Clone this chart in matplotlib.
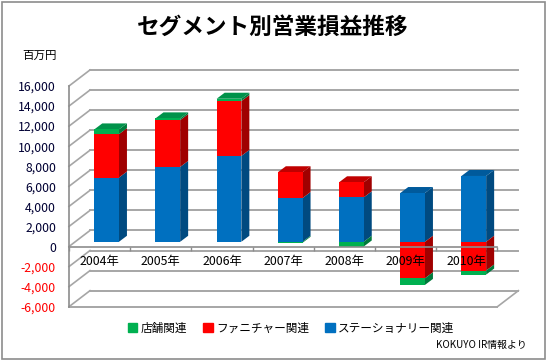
import matplotlib
matplotlib.use("Agg")
import matplotlib.pyplot as plt
from matplotlib.patches import Patch, Polygon, Rectangle

plt.rcParams['font.family'] = ['Noto Sans CJK JP', 'DejaVu Sans']

years = ["2004年", "2005年", "2006年", "2007年", "2008年", "2009年", "2010年"]
stationery = [6400, 7460, 8560, 4360, 4430, 4860, 6560]
furniture = [4330, 4670, 5470, 2570, 1500, -3640, -2870]
stores = [470, 170, 230, -100, -470, -660, -400]
y_ticks = [-6000, -4000, -2000, 0, 2000, 4000, 6000, 8000, 10000, 12000, 14000, 16000]

BLUE = ("#0070C0", "#004A80", "#005A9C")
RED = ("#FF0000", "#A00000", "#C00000")
GREEN = ("#00B050", "#007A3C", "#00924A")
GRID = "#A6A6A6"

# one category is 61.2 px, 1000 yen is 10 px
PX_X = 1 / 61.2
PX_Y = 100
WALL_DX, WALL_DY = 21 * PX_X, 16 * PX_Y
BAR_X, BAR_Y = 7 * PX_X, 4.7 * PX_Y
SIDE_DX, SIDE_DY = 8 * PX_X, 6 * PX_Y
BAR_W = 24.7 * PX_X

fig = plt.figure(figsize=(5.46, 3.6), dpi=100)
fig.add_artist(Rectangle((1.5 / 546, 1.5 / 360), 543 / 546, 357 / 360, transform=fig.transFigure,
                         facecolor="white", edgecolor="#8C8C8C", linewidth=1.2, zorder=-1))
ax = fig.add_axes([69 / 546, (360 - 306.7) / 360, 428.4 / 546, 220.7 / 360])
ax.patch.set_visible(False)
ax.set_xlim(0, 7)
ax.set_ylim(-6000, 16000)

# back wall and left wall gridlines
for v in y_ticks:
    ax.plot([WALL_DX, 7 + WALL_DX], [v + WALL_DY, v + WALL_DY], color=GRID, lw=1.4, clip_on=False, zorder=0.5)
    ax.plot([0, WALL_DX], [v, v + WALL_DY], color=GRID, lw=1.2, clip_on=False, zorder=0.5)
ax.plot([0, 7], [-6000, -6000], color=GRID, lw=1.4, clip_on=False, zorder=0.5)
ax.plot([7, 7 + WALL_DX], [-6000, -6000 + WALL_DY], color=GRID, lw=1.2, clip_on=False, zorder=0.5)
ax.plot([0, 0], [-6000, 16000], color="#8C8C8C", lw=1.2, clip_on=False, zorder=0.5)


def draw_segment(i, low, high, colors, top=False):
    x0 = i + 0.5 + BAR_X - BAR_W / 2
    x1 = x0 + BAR_W
    y0, y1 = low + BAR_Y, high + BAR_Y
    side = [(x1, y0), (x1 + SIDE_DX, y0 + SIDE_DY), (x1 + SIDE_DX, y1 + SIDE_DY), (x1, y1)]
    ax.add_patch(Polygon(side, facecolor=colors[1], edgecolor="none", clip_on=False, zorder=1))
    if top:
        cap = [(x0, y1), (x1, y1), (x1 + SIDE_DX, y1 + SIDE_DY), (x0 + SIDE_DX, y1 + SIDE_DY)]
        ax.add_patch(Polygon(cap, facecolor=colors[2], edgecolor="none", clip_on=False, zorder=1))
    ax.bar(i + 0.5 + BAR_X, high - low, BAR_W, bottom=y0, color=colors[0], clip_on=False, zorder=1.2)


for i in range(len(years)):
    pos = 0
    neg = 0
    parts = [(stationery[i], BLUE), (furniture[i], RED), (stores[i], GREEN)]
    last_pos = max(j for j, p in enumerate(parts) if p[0] > 0)
    for j, (val, colors) in enumerate(parts):
        if val >= 0:
            draw_segment(i, pos, pos + val, colors, top=j == last_pos)
            pos += val
        else:
            draw_segment(i, neg + val, neg, colors)
            neg += val

for name in ["left", "right", "top"]:
    ax.spines[name].set_visible(False)
ax.spines["bottom"].set_position(("data", 0))
ax.spines["bottom"].set_color("#8C8C8C")
ax.spines["bottom"].set_linewidth(1.2)
ax.set_axisbelow(False)

ax.set_xticks(range(8))
ax.set_xticklabels([])
ax.set_xticks([i + 0.5 for i in range(7)], years, minor=True)
ax.tick_params(axis="x", which="major", length=3, width=1, color="#8C8C8C", direction="out")
ax.tick_params(axis="x", which="minor", length=0, pad=6, labelsize=8.9, labelcolor="black")

ax.set_yticks(y_ticks)
ax.set_yticklabels([f"{v:,}" for v in y_ticks])
ax.tick_params(axis="y", length=0, pad=9.4, labelsize=8.8)
for v, label in zip(y_ticks, ax.get_yticklabels()):
    label.set_color("#FF0000" if v < 0 else "#000033")

fig.text(273 / 546, 1 - 27 / 360, "セグメント別営業損益推移", ha="center", va="center", fontsize=16.3, fontweight="bold")
fig.text(40 / 546, 1 - 55 / 360, "百万円", ha="center", va="center", fontsize=8.3)
fig.text(481.5 / 546, 1 - 345 / 360, "KOKUYO IR情報より", ha="center", va="center", fontsize=7.1)

handles = [Patch(color=GREEN[0], label="店舗関連"), Patch(color=RED[0], label="ファニチャー関連"),
           Patch(color=BLUE[0], label="ステーショナリー関連")]
fig.legend(handles=handles, ncol=3, loc="center", bbox_to_anchor=(291 / 546, 1 - 328 / 360), frameon=False,
           fontsize=8.4, handlelength=0.8, handleheight=0.8, handletextpad=0.3, columnspacing=1.4, borderpad=0)

fig.savefig("out.png", dpi=100)
